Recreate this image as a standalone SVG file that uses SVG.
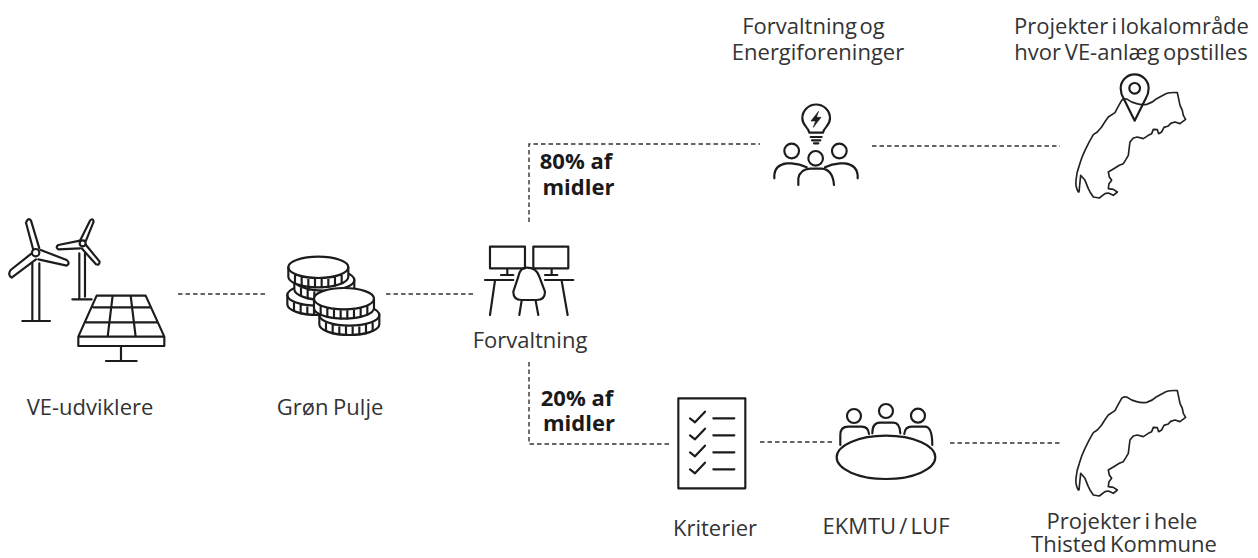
<svg xmlns="http://www.w3.org/2000/svg" width="1258" height="558" viewBox="0 0 1258 558">
<style>
text{font-family:"Open Sans","Noto Sans","Liberation Sans",sans-serif;font-size:22px;fill:#333;text-anchor:middle}
.b{font-weight:700;fill:#1a1a1a}
.i{fill:none;stroke:#1c1c1c;stroke-width:6.5;stroke-linecap:round;stroke-linejoin:round}
.m{fill:none;stroke:#222;stroke-width:5;stroke-linejoin:round;stroke-linecap:round}
.d{fill:none;stroke:#333;stroke-width:1.4;stroke-dasharray:4.5 3}
</style>
<defs>
<path id="map" d="M115,330 Q106,315 108,295 Q110,270 118,250 Q125,225 135,205 Q148,178 160,158 L172,150 L185,135 Q195,118 205,105 L225,92 Q235,72 245,55 Q252,48 262,52 Q275,62 290,65 Q305,70 320,67 Q338,62 350,50 L372,38 Q385,30 412,32 Q416,50 420,70 L427,85 L430,100 L437,112 L420,125 L405,120 L392,124 L385,132 L372,136 L365,150 L356,155 L352,143 L340,142 L335,155 L325,160 L310,170 L292,165 L280,168 L270,180 L268,195 L265,220 L258,232 L250,245 L238,250 L225,258 L205,270 L208,285 L215,295 L207,305 L205,320 L220,322 L232,330 L220,340 L205,333 L195,335 L178,348 L160,345 L150,330 L145,320 L135,295 L122,280 L120,300 L117,330Z"/>
<g id="coin">
<path d="M-90,0 A90,32 0 0 1 90,0 V28 A90,32 0 0 1 -90,28Z" fill="#fff"/>
<path d="M-90,0 A90,32 0 0 0 90,0 M-70,20 v28 M-50,27 v28 M-30,30 v28 M-10,32 v28 M10,32 v28 M30,30 v28 M50,27 v28 M70,20 v28" fill="none"/>
</g>
</defs>
<g id="connectors" class="d">
<path d="M178,294H268"/>
<path d="M386,294H475"/>
<path d="M529,222V144H760"/>
<path d="M872,146H1060"/>
<path d="M529,362V444H670"/>
<path d="M760,442H833"/>
<path d="M950,443H1060"/>
</g>
<g id="ve-udviklere">
<g class="i" transform="translate(0,200) scale(.3333)">
<path d="M97,190V362M118,190V362M67,363H150"/>
<circle cx="107" cy="158" r="11"/>
<path d="M100,150L78,68Q85,50 93,62L118,145"/>
<path d="M122,150L200,180Q212,190 200,197L115,178"/>
<path d="M95,160L32,210Q22,225 35,233L108,178"/>
<path d="M238,160V298M255,160V290M217,298H275"/>
<circle cx="248" cy="130" r="9"/>
<path d="M240,122L270,62Q278,52 281,65L258,122"/>
<path d="M240,122L175,135Q165,142 175,148L240,145"/>
<path d="M258,135L299,185Q298,197 288,193L245,145"/>
<path d="M290,287H437L493,410H235ZM235,410V438H493V410M280,322H452M258,367H472M338,287L323,410M392,287L407,410M363,438V483M318,483H410" fill="#fff"/>
</g>
<text x="90" y="415">VE-udviklere</text>
</g>
<g id="groen-pulje">
<g class="i" transform="translate(270,230) scale(.3333)">
<use href="#coin" x="142" y="195"/>
<use href="#coin" x="163" y="150"/>
<use href="#coin" x="145" y="112"/>
<use href="#coin" x="238" y="255"/>
<use href="#coin" x="222" y="206"/>
</g>
<text x="330" y="415" word-spacing="-1">Grøn Pulje</text>
</g>
<g id="forvaltning">
<g class="i" transform="translate(270,230) scale(.3333)">
<path d="M660,50H765V115H660ZM790,50H895V115H790ZM712,115V133M693,135H730M845,115V133M825,135H862M645,150H730M825,150H910M675,152L660,255M875,152L893,255"/>
<path d="M770,113Q750,113 745,140L730,185Q730,210 755,210H800Q825,210 825,185L808,140Q800,113 770,113ZM755,212L748,255M797,212L805,255"/>
</g>
<text x="530" y="348">Forvaltning</text>
</g>
<g id="label-80"><text class="b"><tspan x="576" y="169">80% af</tspan><tspan x="578.500" y="195">midler</tspan></text></g>
<g id="label-20"><text class="b"><tspan x="577" y="406">20% af</tspan><tspan x="579" y="431">midler</tspan></text></g>
<g id="energiforeninger">
<g class="i" transform="translate(760,90) scale(.3333)">
<path d="M148,128C146,112 127,108 127,85A41.500,41.500 0 1 1 210,85C210,108 191,112 189,128Z"/>
<path d="M152,141H185M156,151H181M162,160H175"/>
<path d="M175,65L153,93H167L160,112L183,82H170Z" fill="#1c1c1c" stroke-width="2"/>
<circle cx="95" cy="183" r="22"/><circle cx="238" cy="183" r="22"/><circle cx="167" cy="205" r="22"/>
<path d="M43,265V255Q45,225 80,220H95Q120,222 140,232M293,265V255Q290,225 255,220H240Q215,222 195,232M115,285V265Q120,238 150,236H185Q218,238 222,285"/>
</g>
<text><tspan x="813.500" y="34" word-spacing="-3">Forvaltning og</tspan><tspan x="818" y="60">Energiforeninger</tspan></text>
</g>
<g id="projekter-lokal">
<g transform="translate(1040,82) scale(.3333)" class="m"><use href="#map"/></g>
<g class="i" transform="translate(1060,70) scale(.3333)">
<path d="M224,152L192,88Q182,72 182,55A42,42 0 0 1 266,55Q266,72 256,88Z"/>
<circle cx="224" cy="55" r="16"/>
</g>
<text><tspan x="1131.500" y="34" word-spacing="-2.500">Projekter i lokalområde</tspan><tspan x="1131" y="60" word-spacing="-2">hvor VE-anlæg opstilles</tspan></text>
</g>
<g id="kriterier">
<g class="i" transform="translate(640,380) scale(.3333)">
<rect x="115" y="55" width="201" height="270"/>
<path d="M150,115L165,127L195,95M220,115H283M150,166L165,178L195,146M220,166H283M150,217L165,229L195,197M220,217H283M150,268L165,280L195,248M220,268H283"/>
</g>
<text x="715" y="536">Kriterier</text>
</g>
<g id="ekmtu-luf">
<g class="i" transform="translate(640,380) scale(.3333)">
<circle cx="642" cy="108" r="21"/><circle cx="738" cy="93" r="21"/><circle cx="834" cy="107" r="21"/>
<path d="M601,195V165Q601,140 625,140H665Q685,140 687,162M697,160Q697,128 720,128H760Q780,128 781,160M793,162Q795,140 815,140H855Q877,140 877,195"/>
<ellipse cx="738" cy="232" rx="148" ry="65"/>
</g>
<text x="886" y="534" word-spacing="-2.500">EKMTU / LUF</text>
</g>
<g id="projekter-kommune">
<g transform="translate(1040,380) scale(.3333)" class="m"><use href="#map"/></g>
<text><tspan x="1122" y="529" word-spacing="-2">Projekter i hele</tspan><tspan x="1124" y="552" word-spacing="-2">Thisted Kommune</tspan></text>
</g>
</svg>
